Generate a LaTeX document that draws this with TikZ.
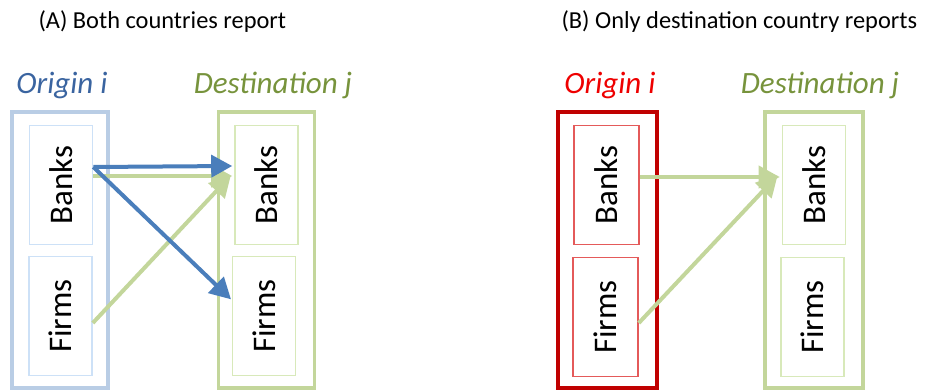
\documentclass[tikz,border=0pt]{standalone}
\usepackage{fontspec}
\setmainfont{Carlito}
\usepackage{tikz}
\usetikzlibrary{
        arrows.meta,
        positioning
    }
\definecolor{bluebox}{RGB}{185,205,229}
\definecolor{blueinner}{RGB}{205,225,247}
\definecolor{bluearrow}{RGB}{74,126,187}
\definecolor{bluetext}{RGB}{58,100,160}
\definecolor{greenbox}{RGB}{195,214,155}
\definecolor{greeninner}{RGB}{216,233,186}
\definecolor{greentext}{RGB}{119,147,60}
\definecolor{redbox}{RGB}{192,0,0}
\definecolor{redinner}{RGB}{228,90,90}
\definecolor{redtext}{RGB}{238,0,0}
\tikzset{>={Triangle[length=21pt,width=22pt]},x=1pt,y=-1pt}
\tikzset{
    outer/.style={draw,line width=3.5pt,minimum width=96pt,minimum height=276pt},
    inner/.style={draw,line width=1.6pt,minimum width=63pt,minimum height=119pt,
        font=\fontsize{33}{38}\selectfont},
    country/.style={font=\fontsize{31}{36}\selectfont\itshape},
    heading/.style={anchor=west,font=\fontsize{24.4}{29}\selectfont},
    flow/.style={->,line width=4pt}
}

\begin{document}
\begin{tikzpicture}
    \useasboundingbox (0,0) rectangle (925,390);
    % panel A
    \node[heading] (ha) at (35,22) {(A) Both countries report};
    \node[outer,bluebox] (orgA) at (60,250) {};
    \node[outer,greenbox] (dstA) at (266.5,250) {};
    \node[inner,blueinner,text=black] (bnkA) at (61,185) {\rotatebox{90}{Banks}};
    \node[inner,blueinner,text=black] (frmA) at (60.5,316) {\rotatebox{90}{Firms}};
    \node[inner,greeninner,text=black] (dbnkA) at (266.5,185) {\rotatebox{90}{Banks}};
    \node[inner,greeninner,text=black] (dfrmA) at (264,316) {\rotatebox{90}{Firms}};
    \node[country,text=bluetext] (lorgA) at (62,85) {Origin i};
    \node[country,text=greentext] (ldstA) at (273,85) {Destination j};
    \path[flow,greenbox]
        ([yshift=9pt]bnkA.east) edge ([xshift=-2pt,yshift=9pt]dbnkA.west)
        ([yshift=-7pt]frmA.east) edge[shorten >=5pt] ([yshift=13pt]dbnkA.west);
    \path[flow,bluearrow]
        ([yshift=18pt]bnkA.east) edge ([xshift=-2pt,yshift=19pt]dbnkA.west)
        ([yshift=18pt]bnkA.east) edge[shorten >=1pt] ([yshift=16pt]dfrmA.west);
    % panel B
    \node[heading] (hb) at (558,22) {(B) Only destination country reports};
    \node[outer,redbox,minimum width=99pt] (orgB) at (607.5,250) {};
    \node[outer,greenbox,minimum width=98pt] (dstB) at (814,250) {};
    \node[inner,redinner,text=black,minimum width=65pt] (bnkB) at (606.5,185) {\rotatebox{90}{Banks}};
    \node[inner,redinner,text=black,minimum width=65pt] (frmB) at (605.5,317) {\rotatebox{90}{Firms}};
    \node[inner,greeninner,text=black] (dbnkB) at (814,185) {\rotatebox{90}{Banks}};
    \node[inner,greeninner,text=black] (dfrmB) at (812.5,317) {\rotatebox{90}{Firms}};
    \node[country,text=redtext] (lorgB) at (610,85) {Origin i};
    \node[country,text=greentext] (ldstB) at (820,85) {Destination j};
    \path[flow,greenbox]
        ([yshift=8pt]bnkB.east) edge ([xshift=-2pt,yshift=8pt]dbnkB.west)
        ([yshift=-6pt]frmB.east) edge[shorten >=6pt] ([yshift=14pt]dbnkB.west);
\end{tikzpicture}
\end{document}
